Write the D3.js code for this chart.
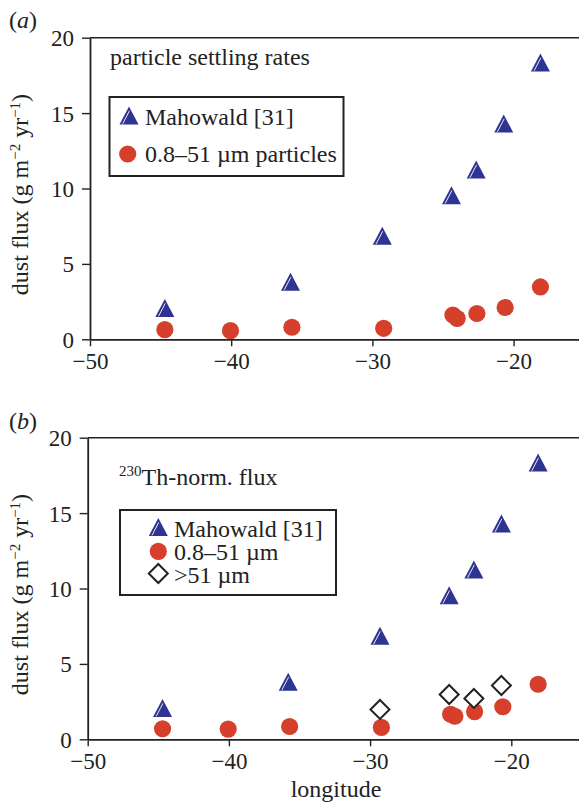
<!DOCTYPE html>
<html><head><meta charset="utf-8">
<script src="https://cdn.jsdelivr.net/npm/d3@7"></script>
<style>
body{margin:0;background:#fff;}
svg{display:block;font-family:"Liberation Serif","Times New Roman",serif;}
</style></head>
<body><svg id="c" width="579" height="804"></svg>
<script>
// ---- data ----
const xTicks = [-50, -40, -30, -20];
const yTicks = [0, 5, 10, 15, 20];
const mahowaldLon = [-44.7, -35.8, -29.3, -24.4, -22.65, -20.7, -18.1];
const mahowaldFlux = [2.08, 3.82, 6.86, 9.56, 11.26, 14.31, 18.36];
const fineLon = [-44.7, -40.05, -35.7, -29.2, -24.3, -24.0, -22.6, -20.6, -18.1];
const fineFluxA = [0.64, 0.57, 0.80, 0.73, 1.61, 1.39, 1.71, 2.11, 3.47];
const fineFluxB = [0.70, 0.68, 0.85, 0.79, 1.66, 1.53, 1.83, 2.16, 3.65];
const coarseLon = [-29.3, -24.4, -22.65, -20.7];
const coarseFluxB = [1.98, 2.97, 2.71, 3.57];

const BLUE = "#2e3492", RED = "#d53f2b", INK = "#222";
const svg = d3.select("#c");
const FS = 23, FT = 24;

function triPath(g, x, y) {
  g.append("path").attr("d", `M${x},${y-9}L${x-9.5},${y+9}L${x+9.5},${y+9}Z`).attr("fill", BLUE);
  g.append("line").attr("x1", x-6.3).attr("y1", y+8.3).attr("x2", x+0.4).attr("y2", y-4.6)
    .attr("stroke", "#fff").attr("stroke-width", 0.9);
}
function circ(g, x, y) { g.append("circle").attr("cx", x).attr("cy", y).attr("r", 8.6).attr("fill", RED); }
function diam(g, x, y) {
  g.append("path").attr("d", `M${x},${y-9.5}L${x+9.5},${y}L${x},${y+9.5}L${x-9.5},${y}Z`)
    .attr("fill", "#fff").attr("stroke", INK).attr("stroke-width", 2);
}

function panel(o) {
  const x = d3.scaleLinear().domain([-50, -15]).range([o.x0, o.x0 + 35 * 14.12]);
  const y = d3.scaleLinear().domain([0, 20]).range([o.y0, o.y0 - 20 * 15.08]);
  const g = svg.append("g");
  g.append("line").attr("x1", x(-50)).attr("x2", 579).attr("y1", y(20)).attr("y2", y(20))
    .attr("stroke", INK).attr("stroke-width", 1.6);
  const ya = g.append("g").attr("transform", `translate(${x(-50)},0)`)
    .call(d3.axisLeft(y).tickValues(yTicks).tickSize(8).tickPadding(8).tickSizeOuter(0));
  const xa = g.append("g").attr("transform", `translate(0,${y(0)})`)
    .call(d3.axisBottom(x).tickValues(xTicks).tickSize(7).tickPadding(6).tickSizeOuter(0)
      .tickFormat(d => String(d).replace("-", "\u2212")));
  [ya, xa].forEach(a => {
    a.select(".domain").attr("stroke", INK).attr("stroke-width", 1.8);
    a.selectAll(".tick line").attr("stroke", INK).attr("stroke-width", 1.4);
    a.selectAll("text").attr("font-size", FS).attr("fill", INK).attr("font-family", "Liberation Serif");
  });
  ya.selectAll("text").attr("dy", "0.35em");
  const cy = (y(0) + y(20)) / 2 + 6;
  const t = g.append("text").attr("transform", `translate(28,${cy}) rotate(-90)`)
    .attr("text-anchor", "middle").attr("font-size", FT).attr("fill", INK);
  t.append("tspan").text("dust flux (g m");
  t.append("tspan").attr("dy", -8).attr("font-size", 15).text("\u22122");
  t.append("tspan").attr("dy", 8).text(" yr");
  t.append("tspan").attr("dy", -8).attr("font-size", 15).text("\u22121");
  t.append("tspan").attr("dy", 8).text(")");
  const pl = g.append("text").attr("x", 9).attr("y", o.letterY).attr("font-size", FT).attr("fill", INK);
  pl.append("tspan").text("(");
  pl.append("tspan").attr("font-style", "italic").text(o.letter);
  pl.append("tspan").text(")");
  return {g, x, y};
}

// ---- panel a ----
const A = panel({x0: 90, y0: 339.3, letter: "a", letterY: 28});
A.g.append("text").attr("x", 110).attr("y", 65).attr("font-size", FT).attr("fill", INK).text("particle settling rates");
A.g.append("rect").attr("x", 109.5).attr("y", 97).attr("width", 234).attr("height", 79)
  .attr("fill", "none").attr("stroke", INK).attr("stroke-width", 2);
triPath(A.g, 129, 115.5);
A.g.append("text").attr("x", 145).attr("y", 125).attr("font-size", FT).attr("fill", INK).text("Mahowald [31]");
circ(A.g, 127.7, 154);
A.g.append("text").attr("x", 145).attr("y", 162).attr("font-size", FT).attr("fill", INK).text("0.8\u201351 \u00b5m particles");
mahowaldLon.forEach((l, i) => triPath(A.g, A.x(l), A.y(mahowaldFlux[i])));
fineLon.forEach((l, i) => circ(A.g, A.x(l), A.y(fineFluxA[i])));

// ---- panel b ----
const B = panel({x0: 87.7, y0: 739.3, letter: "b", letterY: 429});
const th = B.g.append("text").attr("x", 119).attr("y", 485).attr("font-size", FT).attr("fill", INK);
th.append("tspan").attr("font-size", 15).attr("dy", -9).text("230");
th.append("tspan").attr("dy", 9).text("Th-norm. flux");
B.g.append("rect").attr("x", 120).attr("y", 510).attr("width", 216).attr("height", 85)
  .attr("fill", "none").attr("stroke", INK).attr("stroke-width", 2);
triPath(B.g, 158.3, 527);
B.g.append("text").attr("x", 174).attr("y", 536.5).attr("font-size", FT).attr("fill", INK).text("Mahowald [31]");
circ(B.g, 158.3, 551.3);
B.g.append("text").attr("x", 174).attr("y", 560).attr("font-size", FT).attr("fill", INK).text("0.8\u201351 \u00b5m");
diam(B.g, 158.3, 573.5);
B.g.append("text").attr("x", 174).attr("y", 582.5).attr("font-size", FT).attr("fill", INK).text(">51 \u00b5m");
mahowaldLon.forEach((l, i) => triPath(B.g, B.x(l), B.y(mahowaldFlux[i])));
fineLon.forEach((l, i) => circ(B.g, B.x(l), B.y(fineFluxB[i])));
coarseLon.forEach((l, i) => diam(B.g, B.x(l), B.y(coarseFluxB[i])));
B.g.append("text").attr("x", 336).attr("y", 797).attr("text-anchor", "middle").attr("font-size", FT).attr("fill", INK).text("longitude");
</script></body></html>
